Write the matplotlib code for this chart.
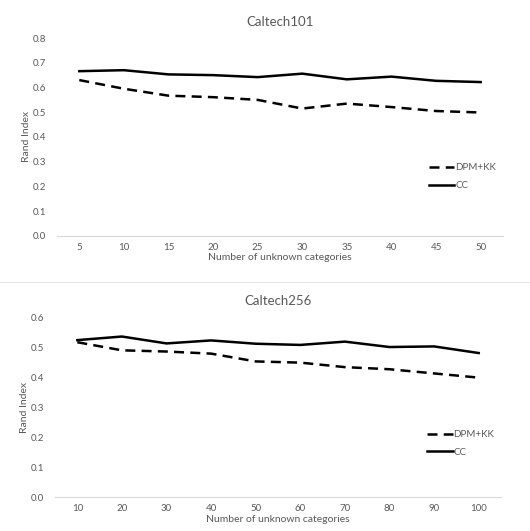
import matplotlib
matplotlib.use("Agg")
import matplotlib.pyplot as plt
from matplotlib.lines import Line2D

# Caltech101 panel
cats_101 = ["5", "10", "15", "20", "25", "30", "35", "40", "45", "50"]
dpm_101 = [0.630, 0.595, 0.567, 0.561, 0.550, 0.515, 0.535, 0.521, 0.505, 0.499]
cc_101 = [0.666, 0.670, 0.653, 0.650, 0.642, 0.656, 0.633, 0.644, 0.627, 0.622]
yticks_101 = [0.0, 0.1, 0.2, 0.3, 0.4, 0.5, 0.6, 0.7, 0.8]

# Caltech256 panel
cats_256 = ["10", "20", "30", "40", "50", "60", "70", "80", "90", "100"]
dpm_256 = [0.517, 0.490, 0.486, 0.479, 0.453, 0.449, 0.434, 0.427, 0.413, 0.399]
cc_256 = [0.524, 0.536, 0.513, 0.523, 0.512, 0.508, 0.519, 0.501, 0.503, 0.481]
yticks_256 = [0.0, 0.1, 0.2, 0.3, 0.4, 0.5, 0.6]

plt.rcParams['font.family'] = ['Lato', 'DejaVu Sans']
grey = "#595959"


def draw_panel(ax, cats, dpm, cc, yticks, title):
    x = list(range(len(cats)))
    ax.plot(x, dpm, color="black", linewidth=1.8, dashes=(4, 2.5), label="DPM+KK")
    ax.plot(x, cc, color="black", linewidth=1.8, label="CC")
    ax.set_xlim(-0.5, len(cats) - 0.5)
    ax.set_ylim(yticks[0], yticks[-1])
    ax.set_xticks(x)
    ax.set_xticklabels(cats)
    ax.set_yticks(yticks)
    ax.set_yticklabels([f"{t:.1f}" for t in yticks])
    ax.tick_params(length=0, labelsize=7, colors=grey)
    ax.tick_params(axis="x", pad=5)
    ax.tick_params(axis="y", pad=8)
    for s in ["top", "right", "left"]:
        ax.spines[s].set_visible(False)
    ax.spines["bottom"].set_color("#d9d9d9")
    ax.spines["bottom"].set_linewidth(0.8)
    ax.set_title(title, fontsize=9.5, color=grey, pad=9)
    ax.set_xlabel("Number of unknown categories", fontsize=7.5, color=grey, labelpad=1)
    ax.set_ylabel("Rand Index", fontsize=7.5, color=grey, labelpad=1)
    leg = ax.legend(loc="center left", bbox_to_anchor=(0.815, 0.30), frameon=False,
                    fontsize=7, handlelength=2.6, handletextpad=0.1, labelspacing=0.9)
    for t in leg.get_texts():
        t.set_color(grey)


fig = plt.figure(figsize=(5.30, 5.31), dpi=100)
ax1 = fig.add_axes([0.1075, 0.5556, 0.8415, 0.3728])
ax2 = fig.add_axes([0.1038, 0.0634, 0.8415, 0.3390])

draw_panel(ax1, cats_101, dpm_101, cc_101, yticks_101, "Caltech101")
draw_panel(ax2, cats_256, dpm_256, cc_256, yticks_256, "Caltech256")

fig.add_artist(Line2D([0.0, 1.0], [1 - 282 / 531, 1 - 282 / 531],
                      transform=fig.transFigure, color="#e6e6e6", linewidth=0.8))

fig.savefig("out.png", dpi=100)
